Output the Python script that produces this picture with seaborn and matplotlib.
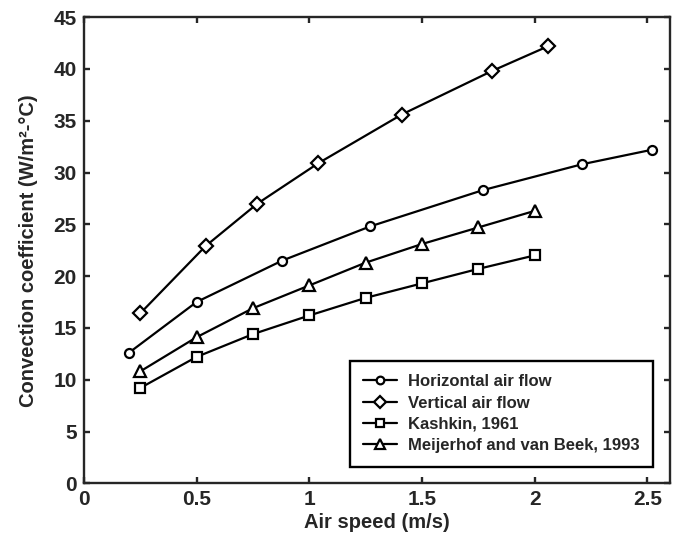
import matplotlib
matplotlib.use("Agg")
import matplotlib.pyplot as plt
import seaborn as sns
import pandas as pd

horiz_x = [0.20, 0.50, 0.88, 1.27, 1.77, 2.21, 2.52]
horiz_y = [12.6, 17.5, 21.5, 24.8, 28.3, 30.8, 32.2]

vert_x = [0.25, 0.54, 0.77, 1.04, 1.41, 1.81, 2.06]
vert_y = [16.4, 22.9, 27.0, 30.9, 35.6, 39.8, 42.2]

kash_x = [0.25, 0.50, 0.75, 1.00, 1.25, 1.50, 1.75, 2.00]
kash_y = [9.2, 12.2, 14.4, 16.2, 17.9, 19.3, 20.7, 22.0]

meij_x = [0.25, 0.50, 0.75, 1.00, 1.25, 1.50, 1.75, 2.00]
meij_y = [10.8, 14.1, 16.9, 19.1, 21.3, 23.1, 24.7, 26.3]

labels = ["Horizontal air flow", "Vertical air flow", "Kashkin, 1961",
          "Meijerhof and van Beek, 1993"]
markers = ["o", "D", "s", "^"]
msizes = [6.5, 7, 7, 8.5]

sns.set_style("ticks")
plt.rcParams['font.family'] = ['Liberation Sans', 'DejaVu Sans']
plt.rcParams['font.weight'] = 'bold'

fig = plt.figure(figsize=(6.76, 5.37), dpi=100)
ax = fig.add_axes([0.124, 0.100, 0.867, 0.868])

series = [(horiz_x, horiz_y), (vert_x, vert_y), (kash_x, kash_y), (meij_x, meij_y)]
for (xs, ys), lab, mk, ms in zip(series, labels, markers, msizes):
    df = pd.DataFrame({"x": xs, "y": ys})
    sns.lineplot(data=df, x="x", y="y", ax=ax, color="black", linewidth=1.6,
                 marker=mk, markersize=ms, markerfacecolor="white",
                 markeredgecolor="black", markeredgewidth=1.6, label=lab)

ax.set_xlim(0, 2.6)
ax.set_ylim(0, 45)
ax.set_xticks([0, 0.5, 1, 1.5, 2, 2.5])
ax.set_xticklabels(["0", "0.5", "1", "1.5", "2", "2.5"])
ax.set_yticks(range(0, 46, 5))

for s in ax.spines.values():
    s.set_visible(True)
    s.set_linewidth(1.7)
ax.tick_params(direction="in", length=4, width=1.7, top=True, right=True,
               labelsize=15, pad=5)
for t in ax.get_xticklabels() + ax.get_yticklabels():
    t.set_fontweight("bold")

ax.set_xlabel("Air speed (m/s)", fontsize=14.5, fontweight="bold", labelpad=3)
ax.set_ylabel("Convection coefficient (W/m²-°C)",
              fontsize=14.5, fontweight="bold", labelpad=11)

leg = ax.legend(loc="lower right", fontsize=12, frameon=True, fancybox=False,
                edgecolor="black", borderaxespad=1.0, handlelength=2.0,
                handletextpad=0.7, labelspacing=0.38, borderpad=0.8,
                markerscale=0.85)
leg.get_frame().set_linewidth(1.7)
leg.get_frame().set_alpha(1)
for t in leg.get_texts():
    t.set_fontweight("bold")

fig.savefig("out.png", dpi=100)
